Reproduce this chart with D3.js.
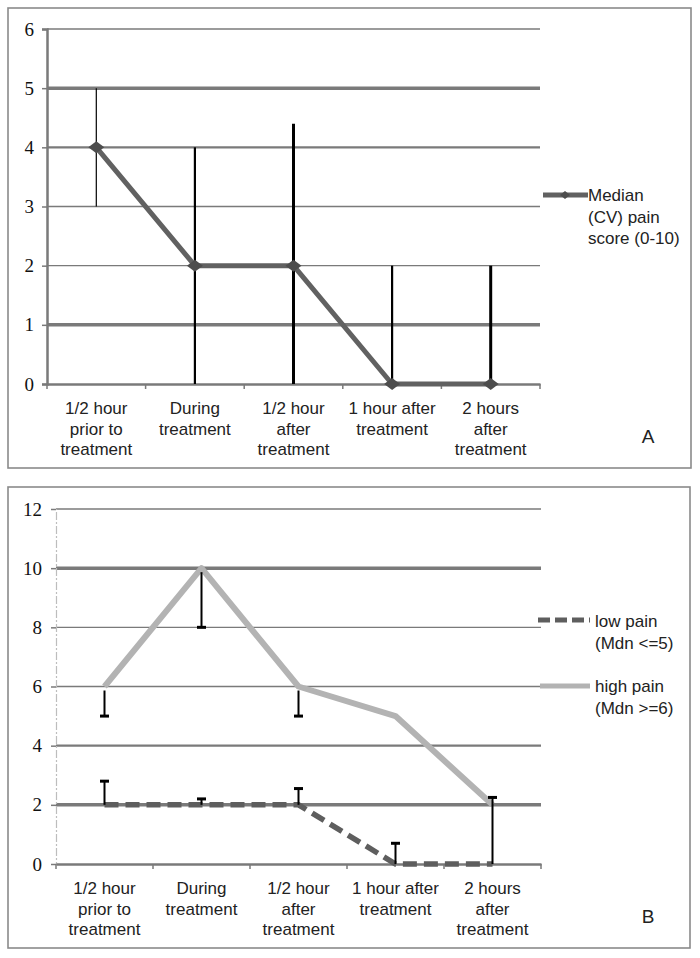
<!DOCTYPE html>
<html><head><meta charset="utf-8">
<script src="https://cdn.jsdelivr.net/npm/d3@7"></script>
<style>body{margin:0;background:#fff}svg{display:block}
.serif text{font-family:'Liberation Serif','Times New Roman',serif !important;}
</style>
</head><body>
<script>
// ---------- data ----------
const categories = ["1/2 hour\nprior to\ntreatment","During\ntreatment","1/2 hour\nafter\ntreatment","1 hour after\ntreatment","2 hours\nafter\ntreatment"];
// Panel A
const medianPain = [4,2,2,0,0];
const medianErrLow = [3,0,0,0,0];
const medianErrHigh = [5,4,4.4,2,2];
const ticksA = [0,1,2,3,4,5,6];
const legendA = ["Median","(CV) pain","score (0-10)"];
// Panel B
const lowPain = [2,2,2,0,0];
const lowPainErrHigh = [2.8,2.2,2.55,0.7,2.25];
const highPain = [6,10,6,5,2];
const highPainErrLow = [5,8,5,null,null];
const ticksB = [0,2,4,6,8,10,12];
const legendLow = ["low pain","(Mdn <=5)"];
const legendHigh = ["high pain","(Mdn >=6)"];

const W = 700, H = 958;
const svg = d3.select("body").append("svg").attr("width",W).attr("height",H);
const sans = "'Liberation Sans', Arial, sans-serif";

function panel(cfg){
  const g = svg.append("g");
  g.append("rect").attr("x",cfg.box[0]).attr("y",cfg.box[1]).attr("width",cfg.box[2]-cfg.box[0]).attr("height",cfg.box[3]-cfg.box[1])
    .attr("fill","none").attr("stroke","#8a8a8a").attr("stroke-width",1.6);
  const x = d3.scaleBand().domain(categories).range([cfg.x0,cfg.x1]);
  const y = d3.scaleLinear().domain([0,cfg.ymax]).range([cfg.y0,cfg.y1]);
  const cx = c => x(c)+x.bandwidth()/2;
  // gridlines
  g.append("g").selectAll("line").data(cfg.ticks.filter(t=>t>0)).join("line")
    .attr("x1",cfg.x0).attr("x2",cfg.x1).attr("y1",d=>y(d)).attr("y2",d=>y(d))
    .attr("stroke","#7a7a7a").attr("stroke-width",d=>cfg.gridW(d));
  // y axis
  const ya = g.append("g").attr("class","serif").attr("transform",`translate(${cfg.x0},0)`)
    .call(d3.axisLeft(y).tickValues(cfg.ticks).tickSize(5).tickFormat(d3.format("d")));
  ya.select(".domain").attr("stroke",cfg.yAxisColor).attr("stroke-width",cfg.yAxisW).attr("stroke-dasharray",cfg.yAxisDash);
  ya.selectAll(".tick line").attr("stroke","#7a7a7a").attr("stroke-width",1.5);
  ya.selectAll(".tick text").attr("font-size",19).attr("fill","#111").attr("x",cfg.tickTextX);
  // x axis
  const xa = g.append("g").attr("transform",`translate(0,${cfg.y0})`).call(d3.axisBottom(x).tickSize(0).tickFormat(""));
  xa.select(".domain").attr("stroke","#7a7a7a").attr("stroke-width",2.5);
  g.append("g").selectAll("line").data(d3.range(categories.length+1)).join("line")
    .attr("x1",i=>cfg.x0+i*x.bandwidth()).attr("x2",i=>cfg.x0+i*x.bandwidth())
    .attr("y1",cfg.y0).attr("y2",cfg.y0+5).attr("stroke","#7a7a7a").attr("stroke-width",1.5);
  // x labels
  const lab = g.append("g").selectAll("text").data(categories).join("text")
    .attr("font-family",sans).attr("font-size",17).attr("fill","#222").attr("text-anchor","middle");
  lab.each(function(d){
    const t = d3.select(this);
    d.split("\n").forEach((s,i)=>t.append("tspan").attr("x",cx(d)).attr("y",cfg.labY+i*20.5).text(s));
  });
  // panel letter
  g.append("text").attr("x",cfg.letter[0]).attr("y",cfg.letter[1]).attr("text-anchor","middle")
    .attr("font-family",sans).attr("font-size",19).attr("fill","#222").text(cfg.letterText);
  return {g,x,y,cx};
}

// ---------- Panel A ----------
const A = panel({box:[8,8,691,468],x0:47,x1:540,y0:384,y1:29,ymax:6,ticks:ticksA,
  gridW:d=>({5:3.5,1:3.5,4:2.2}[d]||1.4),yAxisColor:"#7a7a7a",yAxisW:2.5,yAxisDash:null,tickTextX:-13,
  labY:414,letter:[648,443],letterText:"A"});
const errWA = [1.2,2.2,3,2.2,3];
A.g.append("g").selectAll("line").data(categories).join("line")
  .attr("x1",d=>A.cx(d)).attr("x2",d=>A.cx(d))
  .attr("y1",(d,i)=>A.y(medianErrLow[i])).attr("y2",(d,i)=>A.y(medianErrHigh[i]))
  .attr("stroke","#000").attr("stroke-width",(d,i)=>errWA[i]);
A.g.append("path").datum(medianPain)
  .attr("d",d3.line().x((d,i)=>A.cx(categories[i])).y(d=>A.y(d)))
  .attr("fill","none").attr("stroke","#616161").attr("stroke-width",5).attr("stroke-linejoin","round");
const diamond = "M-8,0L0,-6L8,0L0,6Z";
A.g.append("g").selectAll("path").data(medianPain).join("path")
  .attr("transform",(d,i)=>`translate(${A.cx(categories[i])},${A.y(d)})`)
  .attr("d",diamond).attr("fill","#4d4d4d");
// legend A
A.g.append("line").attr("x1",543).attr("x2",588).attr("y1",195).attr("y2",195).attr("stroke","#616161").attr("stroke-width",5);
A.g.append("path").attr("transform","translate(565,195)").attr("d","M-5,0L0,-4L5,0L0,4Z").attr("fill","#4d4d4d");
A.g.append("g").selectAll("text").data(legendA).join("text")
  .attr("x",588).attr("y",(d,i)=>201+i*21.5).attr("font-family",sans).attr("font-size",17).attr("fill","#222").text(d=>d);

// ---------- Panel B ----------
const B = panel({box:[8,487,690,948],x0:56,x1:541,y0:864,y1:509,ymax:12,ticks:ticksB,
  gridW:d=>({10:3.5,2:3.5,4:2.2}[d]||1.4),yAxisColor:"#bdbdbd",yAxisW:1.2,yAxisDash:"8,2,2,2",tickTextX:-14,
  labY:894,letter:[648,923],letterText:"B"});
// high pain line
B.g.append("path").datum(highPain)
  .attr("d",d3.line().x((d,i)=>B.cx(categories[i])).y(d=>B.y(d)))
  .attr("fill","none").attr("stroke","#b3b3b3").attr("stroke-width",6).attr("stroke-linejoin","round");
// low pain line
B.g.append("path").datum(lowPain)
  .attr("d",d3.line().x((d,i)=>B.cx(categories[i])).y(d=>B.y(d)))
  .attr("fill","none").attr("stroke","#5e5e5e").attr("stroke-width",5.5).attr("stroke-dasharray","14,7");
// error bars high pain (minus)
const hp = highPainErrLow.map((v,i)=>({v,i})).filter(d=>d.v!==null);
const eh = B.g.append("g");
eh.selectAll("line").data(hp).join("line")
  .attr("x1",d=>B.cx(categories[d.i])).attr("x2",d=>B.cx(categories[d.i]))
  .attr("y1",d=>B.y(highPain[d.i])+4).attr("y2",d=>B.y(d.v)).attr("stroke","#000").attr("stroke-width",2);
eh.selectAll("rect").data(hp).join("rect")
  .attr("x",d=>B.cx(categories[d.i])-4.5).attr("y",d=>B.y(d.v)-1.5).attr("width",9).attr("height",3).attr("fill","#000");
// error bars low pain (plus)
const eb = B.g.append("g");
eb.selectAll("line").data(lowPainErrHigh).join("line")
  .attr("x1",(d,i)=>B.cx(categories[i])).attr("x2",(d,i)=>B.cx(categories[i]))
  .attr("y1",(d,i)=>B.y(lowPain[i])).attr("y2",d=>B.y(d)).attr("stroke","#000").attr("stroke-width",2);
eb.selectAll("rect").data(lowPainErrHigh).join("rect")
  .attr("x",(d,i)=>B.cx(categories[i])-4.5).attr("y",d=>B.y(d)-1.5).attr("width",9).attr("height",3).attr("fill","#000");
// legend B
B.g.append("line").attr("x1",538).attr("x2",590).attr("y1",620).attr("y2",620).attr("stroke","#5e5e5e").attr("stroke-width",5).attr("stroke-dasharray","12,5");
B.g.append("g").selectAll("text").data(legendLow).join("text")
  .attr("x",595).attr("y",(d,i)=>627+i*21.5).attr("font-family",sans).attr("font-size",17).attr("fill","#222").text(d=>d);
B.g.append("line").attr("x1",540).attr("x2",590).attr("y1",686).attr("y2",686).attr("stroke","#b3b3b3").attr("stroke-width",5);
B.g.append("g").selectAll("text").data(legendHigh).join("text")
  .attr("x",595).attr("y",(d,i)=>692+i*21.5).attr("font-family",sans).attr("font-size",17).attr("fill","#222").text(d=>d);
</script>
</body></html>
